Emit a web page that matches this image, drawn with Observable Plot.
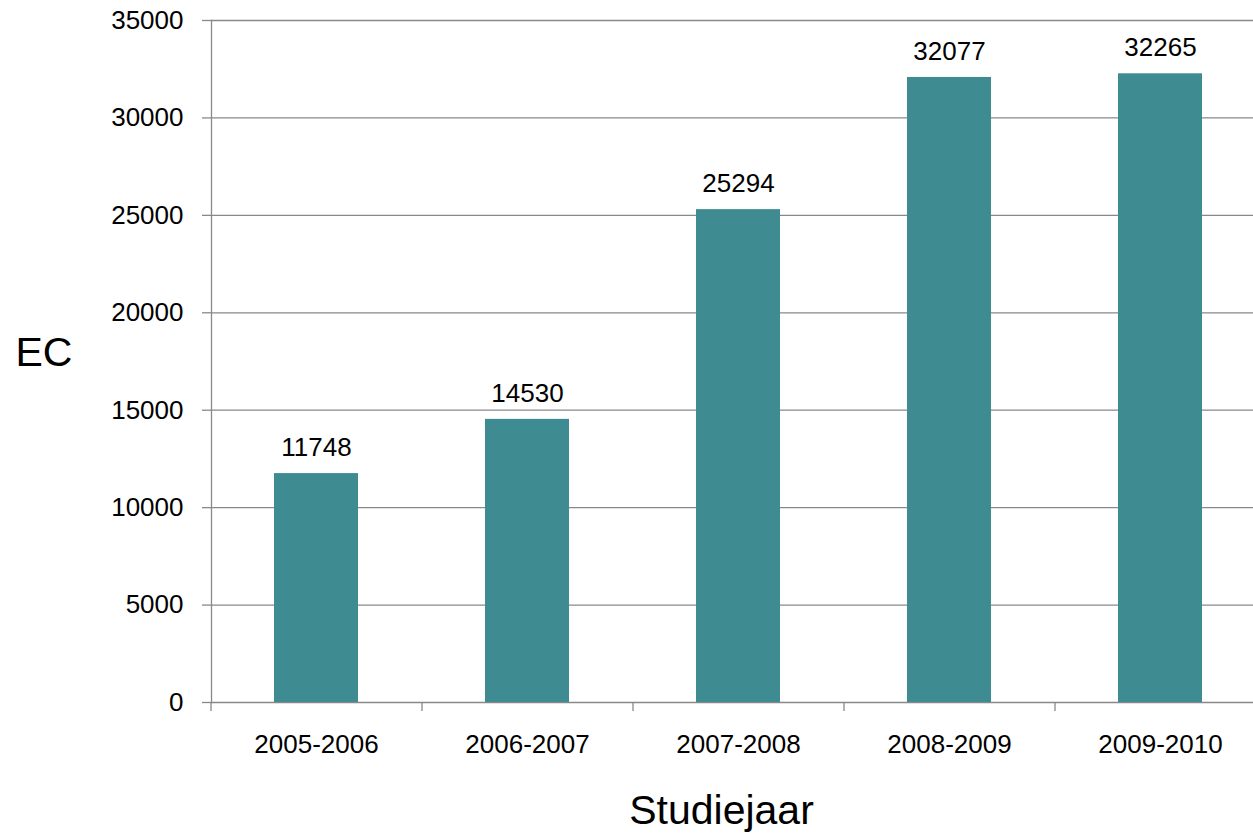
<!DOCTYPE html>
<html>
<head>
<meta charset="utf-8">
<script src="https://cdn.jsdelivr.net/npm/d3@7"></script>
<script src="https://cdn.jsdelivr.net/npm/@observablehq/plot@0.6"></script>
<style>
  html, body { margin: 0; padding: 0; background: #fff; }
  #chart svg { display: block; font-family: "Liberation Sans", Arial, sans-serif; }
</style>
</head>
<body>
<div id="chart"></div>
<script>
const categories = ["2005-2006", "2006-2007", "2007-2008", "2008-2009", "2009-2010"];
const values = [11748, 14530, 25294, 32077, 32265];
const yTicks = [0, 5000, 10000, 15000, 20000, 25000, 30000, 35000];
const xTitle = "Studiejaar";
const yTitle = "EC";

const data = categories.map((c, i) => ({ jaar: c, ec: values[i] }));
const gridColor = "#898989";
const barColor = "#3e8c91";
const step = (1266 - 211) / 5;

const chart = Plot.plot({
  width: 1253,
  height: 836,
  marginLeft: 211,
  marginRight: 0,
  marginTop: 20,
  marginBottom: 134,
  style: { fontFamily: "'Liberation Sans', Arial, sans-serif", background: "#fff", color: "#000" },
  x: { domain: categories, range: [211, 1266], paddingInner: 0.6, paddingOuter: 0.3, label: null },
  y: { domain: [0, 35000], label: null },
  marks: [
    Plot.gridY(yTicks, { stroke: gridColor, strokeOpacity: 1, strokeWidth: 1.3 }),
    Plot.frame({ anchor: "left", stroke: gridColor, strokeWidth: 1.3 }),
    Plot.barY(data, { x: "jaar", y: "ec", fill: barColor }),
    Plot.text(data, { x: "jaar", y: "ec", text: d => String(d.ec), dy: -26, fontSize: 26, fill: "#000" }),
    Plot.axisY({ ticks: yTicks, tickFormat: d => String(d), tickSize: 9, tickPadding: 19, fontSize: 26, stroke: gridColor, strokeWidth: 1.3, label: null, color: "#000" }),
    Plot.axisX({ tickSize: 9, tickFormat: () => "", dx: -step / 2, stroke: gridColor, strokeWidth: 1.3, label: null }),
    Plot.axisX({ tickSize: 0, tickPadding: 32, fontSize: 26, label: null }),
    Plot.text([xTitle], { frameAnchor: "bottom", dx: -11, dy: 121, fontSize: 41, fill: "#000" }),
    Plot.text([yTitle], { frameAnchor: "left", dx: -196, dy: -9, fontSize: 41, fill: "#000" })
  ]
});
document.getElementById("chart").appendChild(chart);
</script>
</body>
</html>
